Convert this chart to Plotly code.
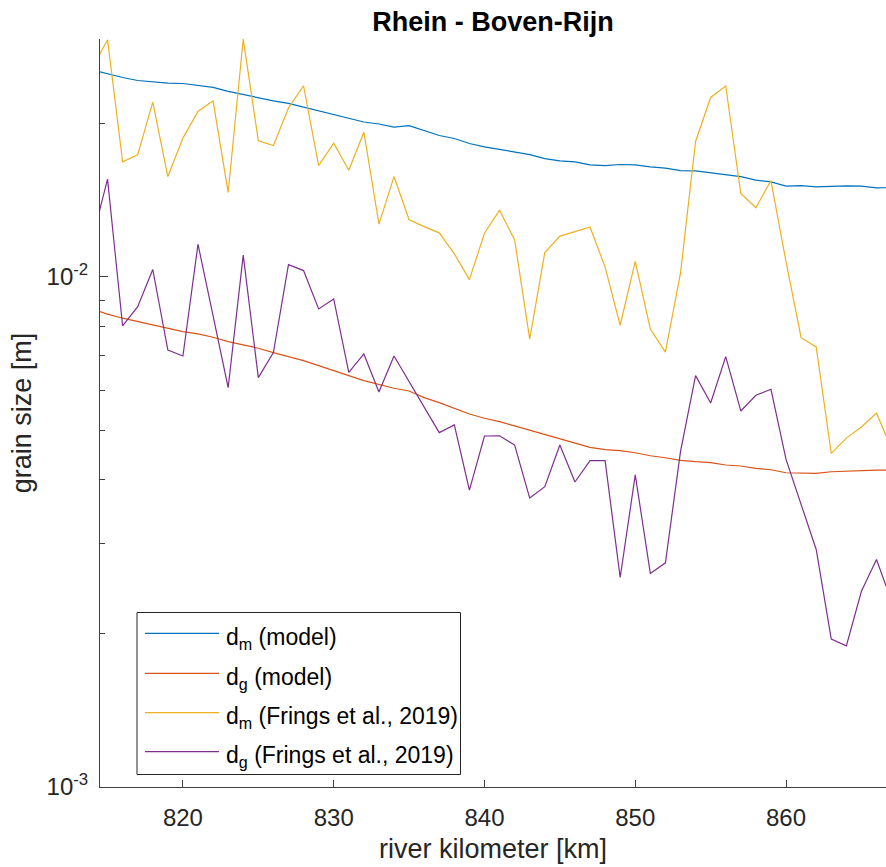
import plotly.graph_objects as go

# river kilometer (km)
km = list(range(814, 868))

# model results [m]
dm_model = [0.02544, 0.02498, 0.02460, 0.02427, 0.02410, 0.02399, 0.02394, 0.02370, 0.02352,
            0.02310, 0.02276, 0.02248, 0.02214, 0.02188, 0.02152, 0.02117, 0.02079, 0.02045, 0.02012,
            0.01994, 0.01967, 0.01979, 0.01936, 0.01893, 0.01868, 0.01826, 0.01799, 0.01780, 0.01756,
            0.01737, 0.01706, 0.01689, 0.01681, 0.01658, 0.01653, 0.01661, 0.01658, 0.01643, 0.01634,
            0.01616, 0.01614, 0.01601, 0.01585, 0.01573, 0.01548, 0.01536, 0.01506, 0.01510, 0.01502,
            0.01507, 0.01508, 0.01507, 0.01495, 0.01496]
dg_model = [0.00865, 0.008451, 0.008299, 0.008172, 0.008062, 0.007943, 0.007812, 0.007732, 0.007617,
            0.007467, 0.007357, 0.007248, 0.007106, 0.006978, 0.006853, 0.006699, 0.006541, 0.006404, 0.006260,
            0.006160, 0.006049, 0.005976, 0.005798, 0.005669, 0.005527, 0.005386, 0.005283, 0.005203, 0.005103,
            0.005005, 0.004906, 0.004818, 0.004732, 0.004634, 0.004584, 0.004563, 0.004522, 0.004461, 0.004421,
            0.004370, 0.004342, 0.004323, 0.004278, 0.004259, 0.004215, 0.004188, 0.004131, 0.004131, 0.004121,
            0.004150, 0.004158, 0.004177, 0.004182, 0.004177]

# measurements (Frings et al., 2019) [m]
dm_frings = [0.0257, 0.02917, 0.01681, 0.01735, 0.02201, 0.01573, 0.01871, 0.02110, 0.02214, 0.01464,
             0.02926, 0.01848, 0.01810, 0.02143, 0.02370, 0.01653, 0.01829, 0.01619, 0.01922, 0.01269,
             0.01573, 0.01294, 0.01255, 0.01220, 0.01110, 0.00988, 0.01218, 0.01351, 0.01182, 0.00755,
             0.01116, 0.01202, 0.01227, 0.01253, 0.01045, 0.00804, 0.01073, 0.00790, 0.00712, 0.01017,
             0.01843, 0.02248, 0.02367, 0.01457, 0.01366, 0.01545, 0.01070, 0.00760, 0.00729, 0.00451,
             0.00483, 0.00508, 0.00541, 0.00460]
dg_frings = [0.01188, 0.01555, 0.008014, 0.008745, 0.01034, 0.007190, 0.006998, 0.01159, 0.008384, 0.006066,
             0.01103, 0.006346, 0.007104, 0.01057, 0.01029, 0.008654, 0.009054, 0.006501, 0.007063, 0.005949,
             0.006998, 0.006243, 0.005552, 0.004951, 0.005126, 0.003821, 0.004877, 0.004880, 0.004682, 0.003685,
             0.003879, 0.004682, 0.003962, 0.004362, 0.004362, 0.002575, 0.004090, 0.002622, 0.002751, 0.004543,
             0.006404, 0.005661, 0.006976, 0.005460, 0.005861, 0.006022, 0.004388, 0.003580, 0.002922, 0.001949,
             0.001891, 0.002420, 0.002793, 0.002313]

names = ["d<sub>m</sub> (model)", "d<sub>g</sub> (model)",
         "d<sub>m</sub> (Frings et al., 2019)", "d<sub>g</sub> (Frings et al., 2019)"]
series = [dm_model, dg_model, dm_frings, dg_frings]
colors = ["#0072BD", "#D95319", "#EDB120", "#7E2F8E"]

x_ticks = [820, 830, 840, 850, 860]
y_ticks = [0.001, 0.01]
y_ticktext = ["10<sup>-3</sup>", "10<sup>-2</sup>"]
y_minor = [0.002, 0.003, 0.004, 0.005, 0.006, 0.007, 0.008, 0.009, 0.02]

FONT = "Liberation Sans, Arial, Helvetica, sans-serif"
TXT = "#262626"

fig = go.Figure()
for name, ys, c in zip(names, series, colors):
    fig.add_trace(go.Scatter(x=km, y=ys, mode="lines", name=name,
                             line=dict(color=c, width=1.2), showlegend=False))

# legend drawn manually (MATLAB-style long line samples)
L_PX, R_PX, T_PX, B_PX = 100, 886, 39, 787
W, H = R_PX - L_PX, B_PX - T_PX
def px(xp):
    return (xp - L_PX) / W
def py(yp):
    return (B_PX - yp) / H

shapes = [dict(type="rect", xref="paper", yref="paper",
               x0=px(137), x1=px(460.5), y0=py(774.5), y1=py(612.5),
               line=dict(color="#262626", width=1), fillcolor="white", layer="above")]
annotations = []
entry_y = [633.3, 673.3, 712.7, 751.7]
for name, c, ey in zip(names, colors, entry_y):
    shapes.append(dict(type="line", xref="paper", yref="paper",
                       x0=px(145), x1=px(219), y0=py(ey), y1=py(ey),
                       line=dict(color=c, width=1.2), layer="above"))
    annotations.append(dict(xref="paper", yref="paper", x=px(224), y=py(ey),
                            xanchor="left", yanchor="middle", text=name, showarrow=False,
                            yshift=-5, font=dict(family=FONT, size=23, color="black")))

fig.update_layout(
    width=886, height=867,
    margin=dict(l=L_PX, r=886 - R_PX, t=T_PX, b=867 - B_PX),
    paper_bgcolor="white", plot_bgcolor="white",
    font=dict(family=FONT, color=TXT),
    title=dict(text="<b>Rhein - Boven-Rijn</b>", x=(L_PX + R_PX) / 2 / 886, xanchor="center",
               y=1 - 22 / 867, yanchor="middle", font=dict(family=FONT, size=27, color="black")),
    shapes=shapes, annotations=annotations,
)
fig.update_xaxes(range=[814.5, 866.63], tickvals=x_ticks, ticks="inside", ticklen=7,
                 tickcolor="#404040", showline=True, linecolor="#404040", linewidth=1,
                 showgrid=False, zeroline=False, tickfont=dict(size=24, color=TXT),
                 ticklabelstandoff=9,
                 title=dict(text="river kilometer [km]", font=dict(size=27, color=TXT), standoff=9))
fig.update_yaxes(type="log", range=[-3, -1.5336], tickvals=y_ticks, ticktext=y_ticktext,
                 ticks="inside", ticklen=8, tickcolor="#404040", showline=True,
                 linecolor="#404040", linewidth=1, showgrid=False, zeroline=False,
                 tickfont=dict(size=24, color=TXT), ticklabelstandoff=6,
                 minor=dict(tickvals=y_minor, ticks="inside", ticklen=5, tickcolor="#404040"),
                 title=dict(text="grain size [m]", font=dict(size=27, color=TXT), standoff=7))

fig.write_html("out.html")
